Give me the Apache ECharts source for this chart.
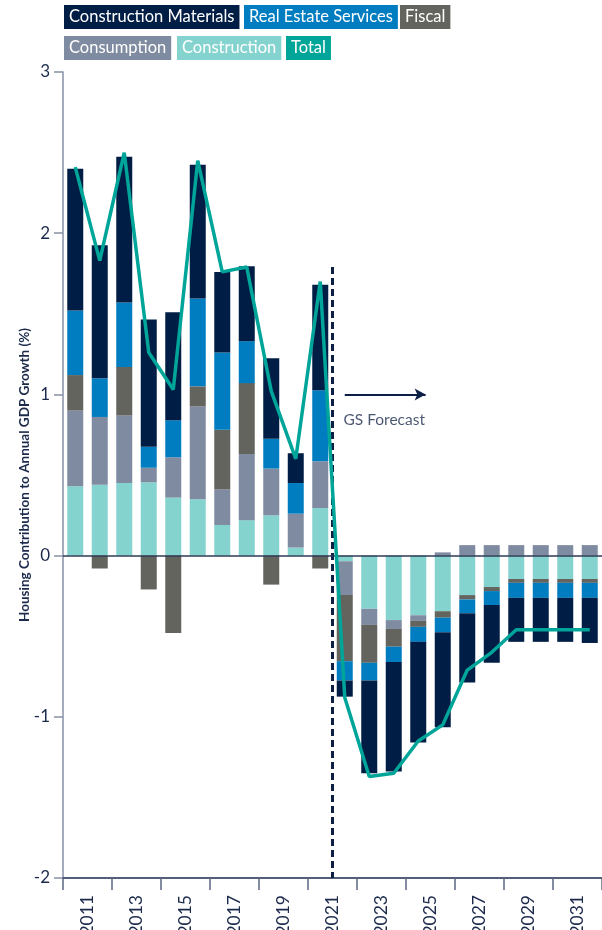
<!DOCTYPE html>
<html>
<head>
<meta charset="utf-8">
<script src="https://cdn.jsdelivr.net/npm/echarts@6/dist/echarts.min.js"></script>
<style>
  html, body { margin: 0; padding: 0; background: #ffffff; }
  #chart { width: 602px; height: 930px; }
</style>
</head>
<body>
<div id="chart"></div>
<script>
// Housing contribution to annual GDP growth, by channel (percentage points)
const years = ['2011', '2012', '2013', '2014', '2015', '2016', '2017', '2018', '2019', '2020', '2021',
               '2022', '2023', '2024', '2025', '2026', '2027', '2028', '2029', '2030', '2031', '2032'];
// every other year is labelled, centred under its pair of bars
const yearLabels = ['2011', '2013', '2015', '2017', '2019', '2021', '2023', '2025', '2027', '2029', '2031'];

const construction = [0.43, 0.44, 0.45, 0.455, 0.36, 0.35, 0.19, 0.22, 0.25, 0.05, 0.295,
                      -0.035, -0.33, -0.40, -0.37, -0.345, -0.245, -0.195, -0.145, -0.145, -0.145, -0.145];
const consumption = [0.47, 0.42, 0.42, 0.09, 0.25, 0.575, 0.22, 0.41, 0.29, 0.21, 0.29,
                     -0.21, -0.10, -0.055, -0.035, 0.02, 0.065, 0.065, 0.065, 0.065, 0.065, 0.065];
const fiscal = [0.22, -0.08, 0.30, -0.21, -0.48, 0.125, 0.37, 0.44, -0.18, 0, -0.08,
                -0.41, -0.235, -0.11, -0.037, -0.04, -0.027, -0.025, -0.024, -0.024, -0.024, -0.024];
const realEstateServices = [0.40, 0.24, 0.40, 0.13, 0.23, 0.545, 0.48, 0.26, 0.185, 0.19, 0.44,
                            -0.12, -0.11, -0.095, -0.093, -0.09, -0.085, -0.087, -0.093, -0.093, -0.093, -0.093];
const constructionMaterials = [0.88, 0.825, 0.905, 0.79, 0.67, 0.83, 0.50, 0.465, 0.50, 0.185, 0.655,
                               -0.10, -0.575, -0.68, -0.625, -0.59, -0.43, -0.357, -0.273, -0.273, -0.273, -0.28];
const total = [2.41, 1.83, 2.50, 1.26, 1.03, 2.45, 1.76, 1.79, 1.02, 0.60, 1.70,
               -0.88, -1.37, -1.35, -1.15, -1.05, -0.71, -0.60, -0.46, -0.46, -0.46, -0.46];

const yTicks = [-2, -1, 0, 1, 2, 3];
const forecastStartYear = '2022';
const forecastLabel = 'GS Forecast';
const dividerTop = 1.79;
const arrowLevel = 1.0;
const arrowSpan = [0.5, 3.8];
const forecastTextLevel = 0.84;

const FONT = 'Lato, "Noto Sans", sans-serif';
const NAVY = '#1c2a4c';
const C = {
  materials: '#001e45',
  res: '#007dc0',
  fiscal: '#63645e',
  consumption: '#7f8ba0',
  construction: '#84d3cf',
  total: '#00a59a'
};

const forecastIdx = years.indexOf(forecastStartYear);

function legendBox(name, color, left, top) {
  return {
    left: left, top: top, padding: 0,
    itemWidth: 0, itemHeight: 0, itemGap: 0,
    icon: 'rect',
    selectedMode: false,
    data: [{
      name: name,
      textStyle: {
        color: '#ffffff', backgroundColor: color,
        padding: [4, 5, 3, 5], fontSize: 16.5, fontFamily: FONT
      }
    }]
  };
}

function barSeries(name, values, color) {
  return {
    name: name, type: 'bar', stack: 'housing',
    data: values, barWidth: 16,
    itemStyle: { color: color },
    emphasis: { disabled: true }
  };
}

const chart = echarts.init(document.getElementById('chart'), null, { renderer: 'canvas' });

chart.setOption({
  animation: false,
  backgroundColor: '#ffffff',
  textStyle: { fontFamily: FONT },
  legend: [
    legendBox('Construction Materials', C.materials, 59, 5),
    legendBox('Real Estate Services', C.res, 239, 5),
    legendBox('Fiscal', C.fiscal, 395, 5),
    legendBox('Consumption', C.consumption, 59, 36),
    legendBox('Construction', C.construction, 172, 36),
    legendBox('Total', C.total, 281, 36)
  ],
  grid: { left: 63, right: 0, top: 72, bottom: 52, containLabel: false, outerBoundsMode: 'none' },
  xAxis: [
    {
      type: 'category',
      data: years,
      position: 'bottom',
      boundaryGap: true,
      axisLine: { onZero: false, lineStyle: { color: NAVY, width: 1.5 } },
      axisTick: { show: true, interval: 1, length: 12, lineStyle: { color: '#5b6782', width: 1.5 } },
      axisLabel: { show: false }
    },
    {
      type: 'value', min: 0, max: years.length, show: false
    },
    {
      type: 'category',
      data: yearLabels,
      position: 'bottom',
      boundaryGap: true,
      axisLine: { show: false, onZero: false },
      axisTick: { show: false },
      axisLabel: {
        interval: 0, rotate: 90, margin: 17,
        fontSize: 17.5, color: NAVY, fontFamily: FONT
      }
    }
  ],
  yAxis: {
    type: 'value', min: yTicks[0], max: yTicks[yTicks.length - 1], interval: 1,
    name: 'Housing Contribution to Annual GDP Growth (%)',
    nameLocation: 'middle', nameGap: 31, nameMoveOverlap: false,
    nameTextStyle: { fontSize: 13.5, fontWeight: 'bold', color: NAVY, fontFamily: FONT },
    axisLine: { show: true, lineStyle: { color: '#8791a7', width: 1.5 } },
    axisTick: { show: true, length: 9, lineStyle: { color: '#8791a7', width: 1.5 } },
    axisLabel: { fontSize: 17, color: NAVY, margin: 13, fontFamily: FONT },
    splitLine: { show: false }
  },
  series: [
    Object.assign(barSeries('Construction', construction, C.construction), {
      markLine: {
        silent: true, symbol: ['none', 'none'], label: { show: false },
        lineStyle: { color: '#2e3a55', width: 1.5, type: 'solid' },
        data: [{ yAxis: 0 }]
      }
    }),
    barSeries('Consumption', consumption, C.consumption),
    barSeries('Fiscal', fiscal, C.fiscal),
    barSeries('Real Estate Services', realEstateServices, C.res),
    barSeries('Construction Materials', constructionMaterials, C.materials),
    {
      name: 'Total', type: 'line', data: total,
      symbol: 'none', z: 5,
      lineStyle: { color: C.total, width: 3.5 },
      itemStyle: { color: C.total },
      emphasis: { disabled: true }
    },
    {
      // forecast divider, arrow and caption on the continuous overlay axis
      name: 'divider', type: 'line', xAxisIndex: 1,
      data: [[forecastIdx, dividerTop], [forecastIdx, yTicks[0]]],
      symbol: 'none', z: 4, silent: true,
      lineStyle: { color: '#0d1f44', width: 3, type: [7, 4] },
      markLine: {
        silent: true, symbol: ['none', 'arrow'], symbolSize: [9, 11],
        label: { show: false },
        lineStyle: { color: '#0d1f44', width: 2, type: 'solid' },
        data: [[
          { coord: [forecastIdx + arrowSpan[0], arrowLevel] },
          { coord: [forecastIdx + arrowSpan[1], arrowLevel] }
        ]]
      }
    },
    {
      name: 'caption', type: 'scatter', xAxisIndex: 1,
      data: [[forecastIdx + 0.45, forecastTextLevel]],
      symbolSize: 0, silent: true,
      label: {
        show: true, position: 'right', distance: 0,
        formatter: forecastLabel, fontSize: 15.5, color: NAVY, fontFamily: FONT
      }
    }
  ]
});
</script>
</body>
</html>
